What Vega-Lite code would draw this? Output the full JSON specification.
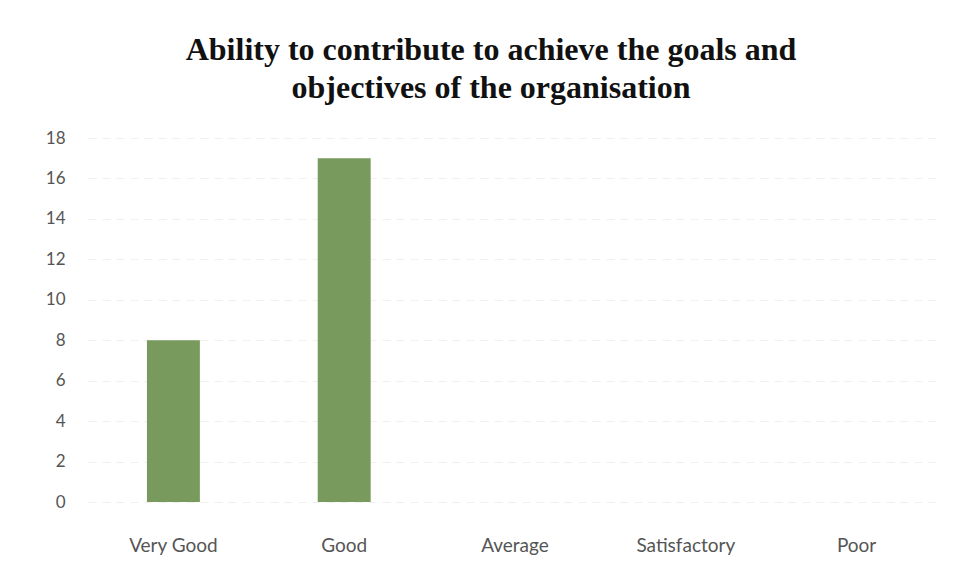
{
  "$schema": "https://vega.github.io/schema/vega-lite/v6.json",
  "autosize": "none",
  "width": 854,
  "height": 364,
  "padding": {"left": 88, "top": 138, "right": 18, "bottom": 80},
  "background": "white",
  "title": {
    "text": ["Ability to contribute to achieve the goals and", "objectives of the organisation"],
    "font": "Liberation Serif",
    "fontSize": 32,
    "fontWeight": "bold",
    "color": "#111111",
    "anchor": "middle",
    "dx": -24,
    "offset": 24,
    "lineHeight": 38
  },
  "data": {
    "values": [
      {"rating": "Very Good", "count": 8},
      {"rating": "Good", "count": 17},
      {"rating": "Average", "count": 0},
      {"rating": "Satisfactory", "count": 0},
      {"rating": "Poor", "count": 0}
    ]
  },
  "mark": {"type": "bar", "color": "#789a5c"},
  "encoding": {
    "x": {
      "field": "rating",
      "type": "nominal",
      "sort": null,
      "scale": {"paddingInner": 0.69, "paddingOuter": 0.345},
      "axis": {
        "title": null,
        "labelAngle": 0,
        "domain": false,
        "ticks": false,
        "labelPadding": 34,
        "labelFont": "Lato",
        "labelFontSize": 19,
        "labelColor": "#555555"
      }
    },
    "y": {
      "field": "count",
      "type": "quantitative",
      "scale": {"domain": [0, 18], "nice": false},
      "axis": {
        "title": null,
        "values": [0, 2, 4, 6, 8, 10, 12, 14, 16, 18],
        "domain": false,
        "ticks": false,
        "labelPadding": 23,
        "labelFont": "Lato",
        "labelFontSize": 17,
        "labelColor": "#555555",
        "gridColor": "#f0f0f0",
        "gridDash": [8, 6]
      }
    }
  },
  "config": {"view": {"stroke": null}}
}
